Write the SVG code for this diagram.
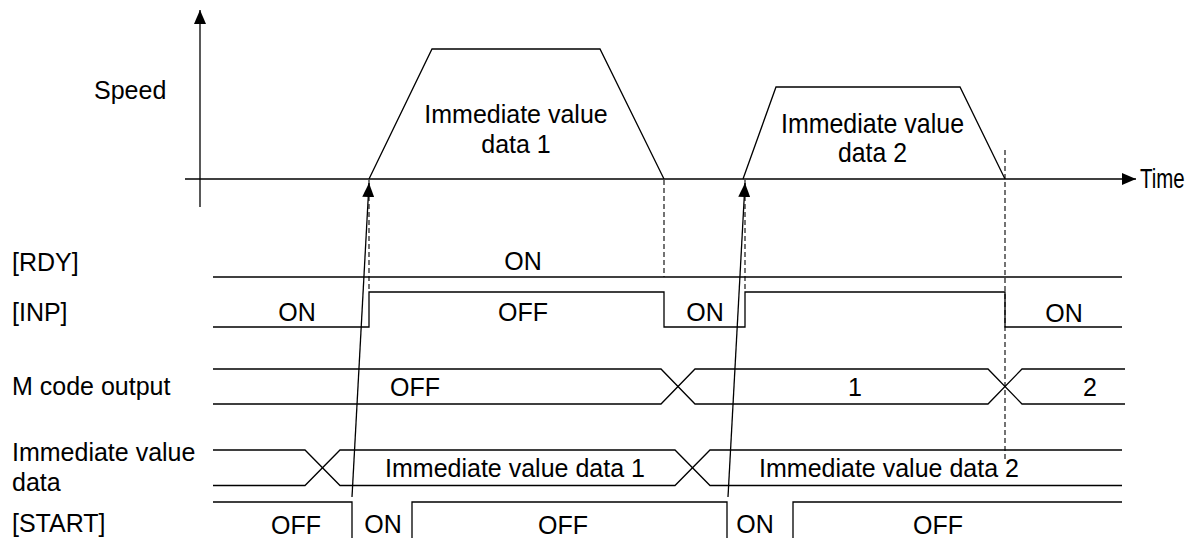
<svg xmlns="http://www.w3.org/2000/svg" width="1191" height="538" viewBox="0 0 1191 538">
<style>
.ln{fill:none;stroke:#000;stroke-width:1.3}
.ds{fill:none;stroke:#000;stroke-width:1.1;stroke-dasharray:5 3}
.t{font-family:"Liberation Sans",Arial,sans-serif;font-size:25px;fill:#000}
.c{text-anchor:middle}
.n{font-family:"Liberation Sans",Arial,sans-serif;font-size:28px;fill:#000}
</style>
<defs>
<marker id="ah" viewBox="0 0 14 12" refX="14" refY="6" markerWidth="14" markerHeight="12" markerUnits="userSpaceOnUse" orient="auto">
<path d="M0,0 L14,6 L0,12 Z" fill="#000"/>
</marker>
</defs>
<rect width="1191" height="538" fill="#fff"/>
<g id="axes">
<line class="ln" x1="200" y1="207" x2="200" y2="10" marker-end="url(#ah)"/>
<line class="ln" x1="185" y1="179" x2="1136" y2="179" marker-end="url(#ah)"/>
<text class="t" x="94" y="99">Speed</text>
<text class="n" transform="translate(1140,188) scale(0.73,1)" x="0" y="0">Time</text>
</g>
<g id="profile1">
<polyline class="ln" points="369,179 432,49 600,49 664,179"/>
<text class="t c" x="516" y="123">Immediate value</text>
<text class="t c" x="516" y="153">data 1</text>
</g>
<g id="profile2">
<polyline class="ln" points="743,179 776,87 960,87 1005,179"/>
<text class="n" x="781" y="133" textLength="183" lengthAdjust="spacingAndGlyphs">Immediate value</text>
<text class="n" x="838" y="162" textLength="69" lengthAdjust="spacingAndGlyphs">data 2</text>
</g>
<g id="rdy">
<text class="t" x="12" y="271">[RDY]</text>
<line class="ln" x1="213" y1="277" x2="1122" y2="277"/>
<text class="t c" x="523" y="270">ON</text>
</g>
<g id="inp">
<text class="t" x="12" y="321">[INP]</text>
<polyline class="ln" points="213,327 369,327 369,292 664,292 664,327 745,327 745,292 1005,292 1005,327 1122,327"/>
<text class="t c" x="297" y="321">ON</text>
<text class="t c" x="523" y="321">OFF</text>
<text class="t c" x="705" y="321">ON</text>
<text class="t c" x="1064" y="322">ON</text>
</g>
<g id="mcode">
<text class="t" x="12" y="395">M code output</text>
<polyline class="ln" points="213,369 661,369 695,404 988,404 1022,369 1125,369"/>
<polyline class="ln" points="213,404 661,404 695,369 988,369 1022,404 1125,404"/>
<text class="t c" x="415" y="396">OFF</text>
<text class="t c" x="855" y="396">1</text>
<text class="t c" x="1090" y="396">2</text>
</g>
<g id="immdata">
<text class="t" x="12" y="461">Immediate value</text>
<text class="t" x="12" y="491">data</text>
<polyline class="ln" points="213,450 305,450 340,485.5 675,485.5 710,450 1122,450"/>
<polyline class="ln" points="213,485.5 305,485.5 340,450 675,450 710,485.5 1122,485.5"/>
<text class="t c" x="515" y="477">Immediate value data 1</text>
<text class="t c" x="889" y="477">Immediate value data 2</text>
</g>
<g id="start">
<text class="t" x="12" y="532">[START]</text>
<polyline class="ln" points="213,502 352,502 352,540"/>
<polyline class="ln" points="412,540 412,502 727,502 727,540"/>
<polyline class="ln" points="793,540 793,502 1122,502"/>
<text class="t c" x="296" y="534">OFF</text>
<text class="t c" x="383" y="533">ON</text>
<text class="t c" x="563" y="534">OFF</text>
<text class="t c" x="755" y="533">ON</text>
<text class="t c" x="938" y="534">OFF</text>
</g>
<g id="connectors">
<line class="ds" x1="369" y1="180" x2="369" y2="292"/>
<line class="ds" x1="664" y1="180" x2="664" y2="277"/>
<line class="ds" x1="745" y1="180" x2="745" y2="292"/>
<line class="ds" x1="1005" y1="150" x2="1005" y2="462"/>
<line class="ln" x1="352" y1="497" x2="369" y2="183" marker-end="url(#ah)"/>
<line class="ln" x1="728" y1="497" x2="745" y2="183" marker-end="url(#ah)"/>
</g>
</svg>
